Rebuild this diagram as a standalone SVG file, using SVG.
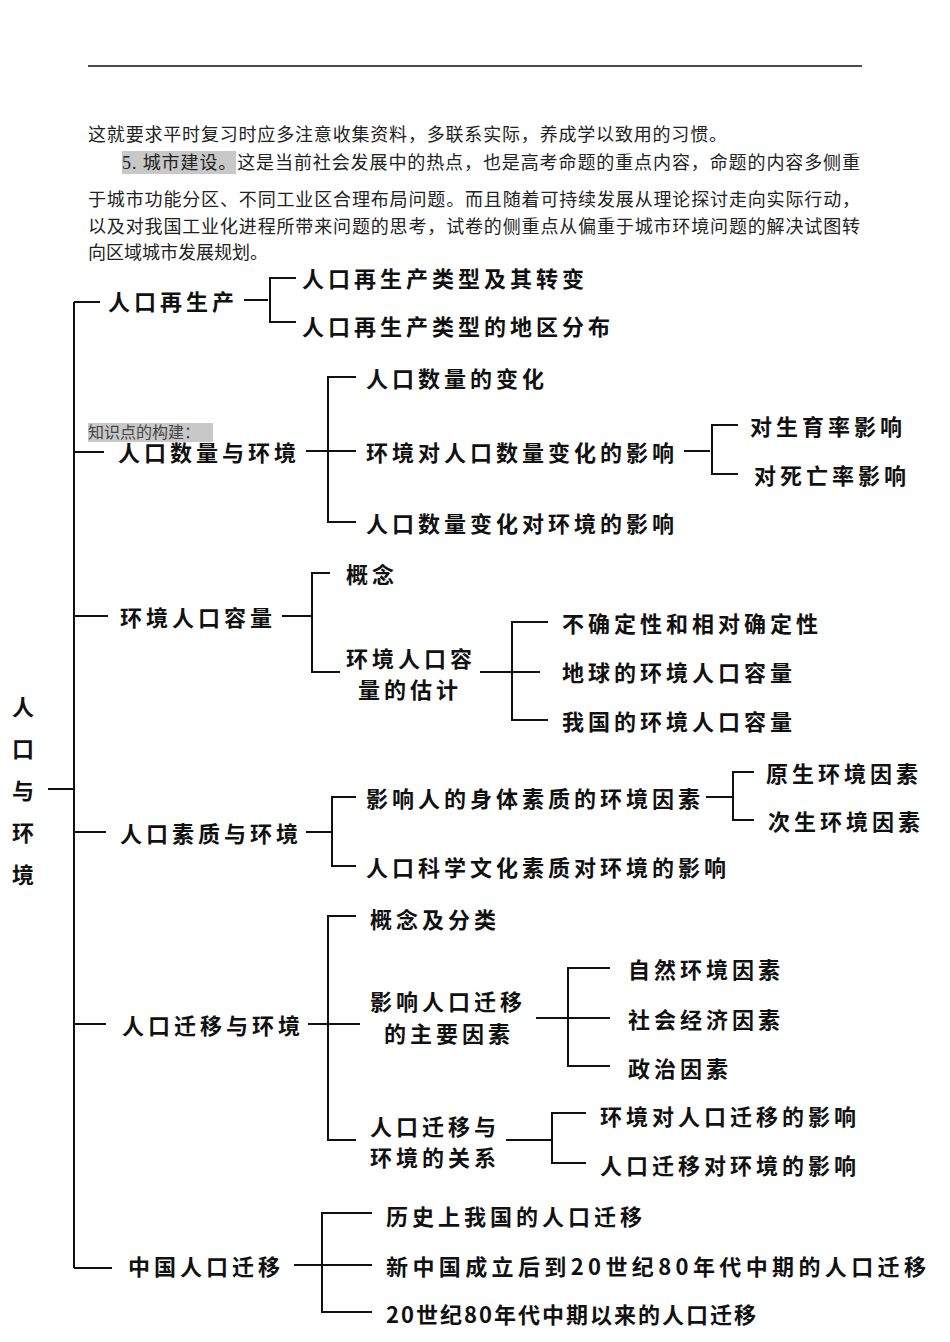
<svg xmlns="http://www.w3.org/2000/svg" width="950" height="1342" viewBox="0 0 950 1342">
<style>
.p{font-family:"Liberation Serif","Noto Sans CJK SC",serif;font-size:18px;fill:#222}
.n{font-family:"Noto Sans CJK SC",sans-serif;font-size:22px;font-weight:bold;fill:#111;letter-spacing:4px;dominant-baseline:central}
.l{stroke:#111;stroke-width:2;fill:none}
</style>
<rect width="950" height="1342" fill="#fff"/>
<line x1="88" y1="66" x2="862" y2="66" stroke="#111" stroke-width="1.5"/>
<rect x="122" y="151" width="114" height="23" fill="#c8c8c8"/>
<rect x="88" y="423" width="125" height="19" fill="#c8c8c8"/>
<g class="p">
<text x="88" y="141" textLength="639">这就要求平时复习时应多注意收集资料，多联系实际，养成学以致用的习惯。</text>
<text x="122" y="169" textLength="738">5. 城市建设。这是当前社会发展中的热点，也是高考命题的重点内容，命题的内容多侧重</text>
<text x="88" y="206" textLength="772">于城市功能分区、不同工业区合理布局问题。而且随着可持续发展从理论探讨走向实际行动，</text>
<text x="88" y="233" textLength="772">以及对我国工业化进程所带来问题的思考，试卷的侧重点从偏重于城市环境问题的解决试图转</text>
<text x="88" y="259">向区域城市发展规划。</text>
<text x="88" y="438" font-size="16" fill="#444">知识点的构建：</text>
</g>
<g id="connectors" class="l">
<path d="M74 302V1268M48 789H74"/>
<path d="M74 302H100M244 300H268M296 278H270V322H296"/>
<path d="M74 452H104M306 451H356M356 377H328V522H356M684 451H710M738 425H712V474H738"/>
<path d="M74 616H108M282 616H312M330 573H312V672H340M480 672H540M548 622H512V720H548"/>
<path d="M74 832H106M306 832H332M356 797H332V866H356M706 797H733M754 772H733V820H754"/>
<path d="M74 1024H106M308 1024H360M356 916H328V1140H356M536 1018H610M610 968H568V1066H610M506 1140H552M586 1113H552V1163H586"/>
<path d="M74 1268H112M294 1265H372M372 1213H322V1312H372"/>
</g>
<g id="root"><g class="n" font-size="23"><text x="12" y="705">人</text><text x="12" y="747">口</text><text x="12" y="789">与</text><text x="12" y="831">环</text><text x="12" y="873">境</text></g></g>
<g id="n1" class="n"><text x="108" y="300">人口再生产</text><text x="302" y="277">人口再生产类型及其转变</text><text x="302" y="325">人口再生产类型的地区分布</text></g>
<g id="n2" class="n"><text x="118" y="451">人口数量与环境</text><text x="366" y="377">人口数量的变化</text><text x="366" y="451">环境对人口数量变化的影响</text><text x="366" y="522">人口数量变化对环境的影响</text><text x="750" y="425">对生育率影响</text><text x="754" y="474">对死亡率影响</text></g>
<g id="n3" class="n"><text x="120" y="616">环境人口容量</text><text x="346" y="573">概念</text><text x="346" y="657">环境人口容</text><text x="358" y="688">量的估计</text><text x="562" y="622">不确定性和相对确定性</text><text x="562" y="671">地球的环境人口容量</text><text x="562" y="720">我国的环境人口容量</text></g>
<g id="n4" class="n"><text x="120" y="832">人口素质与环境</text><text x="366" y="797">影响人的身体素质的环境因素</text><text x="366" y="866">人口科学文化素质对环境的影响</text><text x="766" y="772">原生环境因素</text><text x="768" y="820">次生环境因素</text></g>
<g id="n5" class="n"><text x="122" y="1024">人口迁移与环境</text><text x="370" y="918">概念及分类</text><text x="370" y="1000">影响人口迁移</text><text x="384" y="1032">的主要因素</text><text x="370" y="1125">人口迁移与</text><text x="370" y="1156">环境的关系</text><text x="628" y="968">自然环境因素</text><text x="628" y="1018">社会经济因素</text><text x="628" y="1067">政治因素</text><text x="600" y="1115">环境对人口迁移的影响</text><text x="600" y="1164">人口迁移对环境的影响</text></g>
<g id="n6" class="n"><text x="128" y="1265">中国人口迁移</text><text x="386" y="1215">历史上我国的人口迁移</text><text x="386" y="1265" textLength="544">新中国成立后到20世纪80年代中期的人口迁移</text><text x="386" y="1313" letter-spacing="2">20世纪80年代中期以来的人口迁移</text></g>
</svg>
